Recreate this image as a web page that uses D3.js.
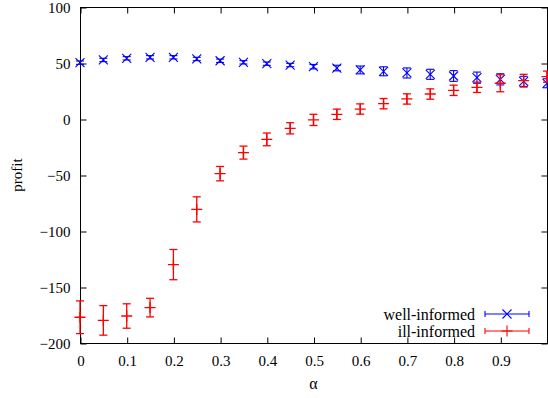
<!DOCTYPE html>
<html>
<head>
<meta charset="utf-8">
<script src="https://cdn.jsdelivr.net/npm/d3@7"></script>
<style>
  html, body { margin: 0; padding: 0; background: #fff; }
  svg { display: block; }
  text { font-family: "Liberation Serif", "Times New Roman", serif; fill: #000; }
</style>
</head>
<body>
<svg id="chart" width="548" height="398"></svg>
<script>
// ---- data ----
const alphas = [0, 0.05, 0.1, 0.15, 0.2, 0.25, 0.3, 0.35, 0.4, 0.45, 0.5,
                0.55, 0.6, 0.65, 0.7, 0.75, 0.8, 0.85, 0.9, 0.95, 1.0];
const wellInformed = [50.3, 52.7, 54.2, 55.1, 55.1, 53.6, 52.0, 50.6, 49.4, 48.2, 46.7,
                      45.5, 43.8, 42.6, 41.1, 39.9, 38.4, 36.9, 35.4, 33.6, 31.9];
const wellErr = [1.5, 1.5, 1.5, 1.5, 1.5, 1.5, 1.5, 1.5, 1.5, 1.5, 2,
                 2.5, 3.5, 4, 4.5, 4.5, 4.8, 5, 5, 4.5, 4];
const illInformed = [-177, -179.8, -175.9, -168.4, -130, -80.7, -48.8, -30, -18.2, -8.3, -0.8,
                     4.2, 8.9, 13.7, 17.9, 22.3, 25.6, 28.3, 31.9, 34.2, 37.8];
const illErr = [14.6, 13.2, 10.9, 8.3, 13.5, 11.2, 6.4, 5.8, 5.7, 5, 5,
                4.6, 4.6, 4.6, 4.6, 4.6, 4.6, 4.6, 7.6, 5.7, 5];
const xTicks = [0, 0.1, 0.2, 0.3, 0.4, 0.5, 0.6, 0.7, 0.8, 0.9, 1.0];
const xTickLabels = ["0", "0.1", "0.2", "0.3", "0.4", "0.5", "0.6", "0.7", "0.8", "0.9", ""];
const yTicks = [-200, -150, -100, -50, 0, 50, 100];
const seriesNames = ["well-informed", "ill-informed"];
const seriesColors = ["#0000ff", "#ff0000"];

// ---- layout ----
const L = 80, R = 547, T = 7, B = 343;
const x = d3.scaleLinear().domain([0, 1]).range([L, R]);
const y = d3.scaleLinear().domain([-200, 100]).range([B, T]);

const svg = d3.select("#chart");
const FS = 15;
const FONT = '"Liberation Serif", "Times New Roman", serif';

// frame
svg.append("rect").attr("x", L + 0.5).attr("y", T + 0.5)
  .attr("width", R - L).attr("height", B - T)
  .attr("fill", "none").attr("stroke", "#000").attr("stroke-width", 1);

// axes (inward ticks, mirrored)
const tickLen = 6;
const xb = svg.append("g").attr("transform", `translate(0.5,${B + 0.5})`)
  .call(d3.axisBottom(x).tickValues(xTicks).tickSizeInner(-tickLen).tickSizeOuter(0)
    .tickPadding(12).tickFormat((d, i) => xTickLabels[i]));
const xt = svg.append("g").attr("transform", `translate(0.5,${T + 0.5})`)
  .call(d3.axisTop(x).tickValues(xTicks).tickSizeInner(-tickLen).tickSizeOuter(0).tickFormat(""));
const yl = svg.append("g").attr("transform", `translate(${L + 0.5},0.5)`)
  .call(d3.axisLeft(y).tickValues(yTicks).tickSizeInner(-tickLen).tickSizeOuter(0)
    .tickPadding(10).tickFormat(d3.format("d")));
const yr = svg.append("g").attr("transform", `translate(${R + 0.5},0.5)`)
  .call(d3.axisRight(y).tickValues(yTicks).tickSizeInner(-tickLen).tickSizeOuter(0).tickFormat(""));
[xb, xt, yl, yr].forEach(g => {
  g.attr("font-family", null).attr("font-size", null);
  g.select(".domain").remove();
  g.selectAll("line").attr("stroke", "#000");
  g.selectAll("text").style("font-family", FONT).style("font-size", FS + "px").attr("fill", "#000");
});
yl.selectAll("text").attr("dy", "0.35em");
xb.selectAll("text").attr("dy", "0.71em");

// axis labels
svg.append("text").attr("x", (L + R) / 2).attr("y", 389)
  .attr("text-anchor", "middle").style("font-family", FONT).style("font-size", (FS + 1) + "px").text("α");
svg.append("text").attr("transform", `translate(22,${(T + B) / 2}) rotate(-90)`)
  .attr("text-anchor", "middle").style("font-family", FONT).style("font-size", FS + "px").text("profit");

// series
const cap = 4;
function drawSeries(vals, errs, color, marker, sw) {
  const g = svg.append("g").attr("stroke", color).attr("stroke-width", sw).attr("fill", "none");
  alphas.forEach((a, i) => {
    const cx = x(a), cy = y(vals[i]);
    const y1 = y(vals[i] + errs[i]), y2 = y(vals[i] - errs[i]);
    g.append("line").attr("x1", cx).attr("x2", cx).attr("y1", y1).attr("y2", y2);
    g.append("line").attr("x1", cx - cap).attr("x2", cx + cap).attr("y1", y1).attr("y2", y1);
    g.append("line").attr("x1", cx - cap).attr("x2", cx + cap).attr("y1", y2).attr("y2", y2);
    marker(g, cx, cy);
  });
}
function markX(g, cx, cy) {
  const s = 4.5;
  g.append("path").attr("d", `M${cx - s},${cy - s}L${cx + s},${cy + s}M${cx - s},${cy + s}L${cx + s},${cy - s}`);
}
function markPlus(g, cx, cy) {
  const s = 5.5;
  g.append("path").attr("d", `M${cx - s},${cy}L${cx + s},${cy}M${cx},${cy - s}L${cx},${cy + s}`);
}
drawSeries(wellInformed, wellErr, seriesColors[0], markX, 1.1);
drawSeries(illInformed, illErr, seriesColors[1], markPlus, 1.3);

// legend
const legY = [314, 331];
const markers = [markX, markPlus];
seriesNames.forEach((name, i) => {
  svg.append("text").attr("x", 475).attr("y", legY[i]).attr("dy", "0.35em")
    .attr("text-anchor", "end").style("font-family", FONT).style("font-size", (FS + 1) + "px").text(name);
  const g = svg.append("g").attr("stroke", seriesColors[i]).attr("stroke-width", 1.1).attr("fill", "none");
  g.append("line").attr("x1", 485).attr("x2", 529).attr("y1", legY[i]).attr("y2", legY[i]);
  g.append("line").attr("x1", 485).attr("x2", 485).attr("y1", legY[i] - 3).attr("y2", legY[i] + 3);
  g.append("line").attr("x1", 529).attr("x2", 529).attr("y1", legY[i] - 3).attr("y2", legY[i] + 3);
  markers[i](g, 507, legY[i]);
});
</script>
</body>
</html>
